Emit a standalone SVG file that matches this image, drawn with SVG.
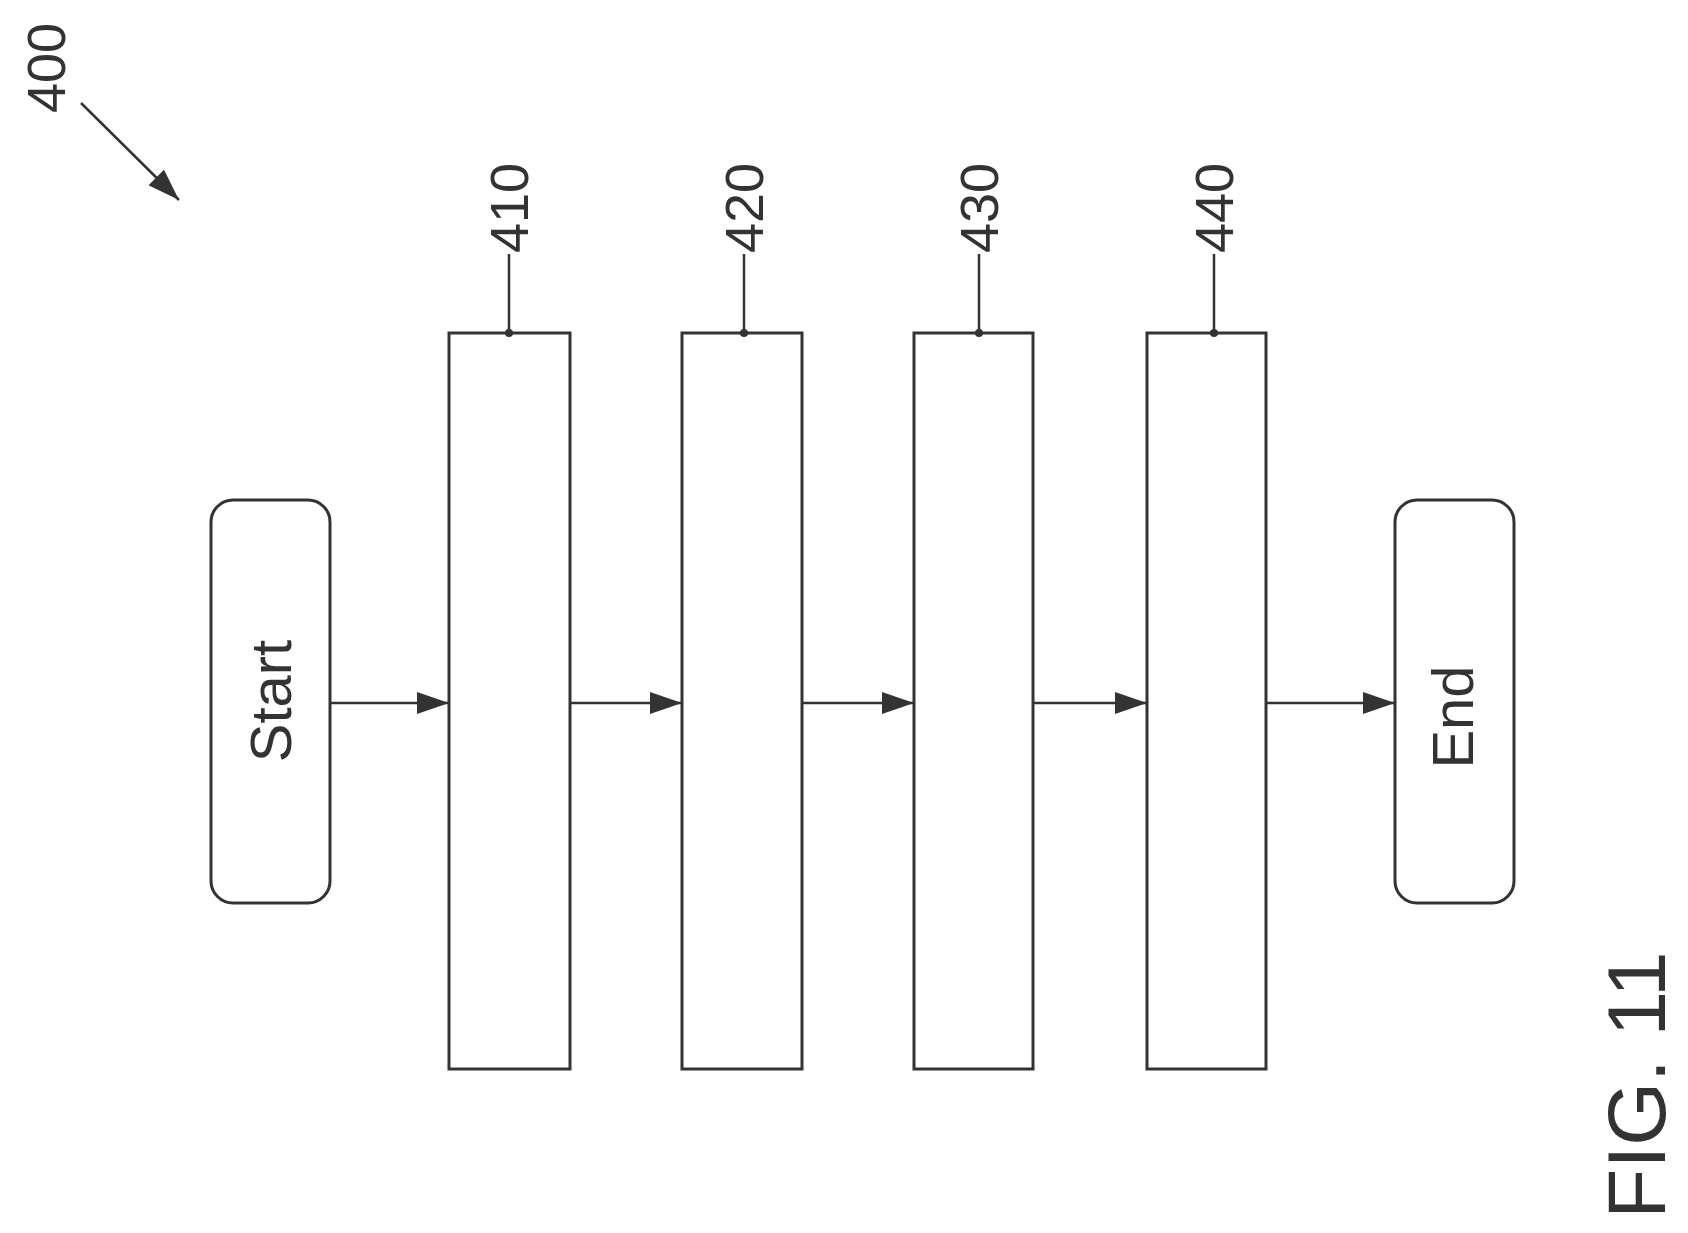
<svg xmlns="http://www.w3.org/2000/svg" width="1688" height="1233" viewBox="0 0 1688 1233">
<style>
.b{fill:#fff;stroke:#333;stroke-width:3}
.l{stroke:#333;stroke-width:2.5;fill:none}
text{font-family:"Liberation Sans",Arial,sans-serif;fill:#333;text-anchor:middle;dominant-baseline:central}
</style>
<defs>
<marker id="a2" markerWidth="32" markerHeight="22" refX="32" refY="11" orient="auto" markerUnits="userSpaceOnUse" viewBox="0 0 32 22"><path d="M0,0L32,11L0,22z" fill="#333"/></marker></defs>
<rect width="1688" height="1233" fill="#fff"/>
<g id="ref400"><text transform="translate(46,68) rotate(-90)" font-size="54">400</text><path class="l" d="M81,103L179,200" style="marker-end:url(#a2)"/></g>
<g id="start"><rect class="b" x="211" y="500" width="119" height="403" rx="22"/><text transform="translate(270,701) rotate(-90)" font-size="58">Start</text></g>
<g id="n410"><rect class="b" x="449" y="333" width="121" height="736"/><circle cx="509" cy="333" r="4" fill="#333"/><path class="l" d="M509,333V254"/><text transform="translate(509,208) rotate(-90)" font-size="54">410</text></g>
<g id="n420"><rect class="b" x="682" y="333" width="120" height="736"/><circle cx="744" cy="333" r="4" fill="#333"/><path class="l" d="M744,333V254"/><text transform="translate(744,208) rotate(-90)" font-size="54">420</text></g>
<g id="n430"><rect class="b" x="914" y="333" width="119" height="736"/><circle cx="979" cy="333" r="4" fill="#333"/><path class="l" d="M979,333V254"/><text transform="translate(979,208) rotate(-90)" font-size="54">430</text></g>
<g id="n440"><rect class="b" x="1147" y="333" width="119" height="736"/><circle cx="1214" cy="333" r="4" fill="#333"/><path class="l" d="M1214,333V254"/><text transform="translate(1214,208) rotate(-90)" font-size="54">440</text></g>
<g id="end"><rect class="b" x="1395" y="500" width="119" height="403" rx="22"/><text transform="translate(1452,717) rotate(-90)" font-size="58">End</text></g>
<g id="connectors">
<path class="l" d="M330,703H449" style="marker-end:url(#a2)"/>
<path class="l" d="M570,703H682" style="marker-end:url(#a2)"/>
<path class="l" d="M802,703H914" style="marker-end:url(#a2)"/>
<path class="l" d="M1033,703H1147" style="marker-end:url(#a2)"/>
<path class="l" d="M1266,703H1395" style="marker-end:url(#a2)"/>
</g>
<text transform="translate(1636,1085) rotate(-90)" font-size="82">FIG. 11</text>
</svg>
